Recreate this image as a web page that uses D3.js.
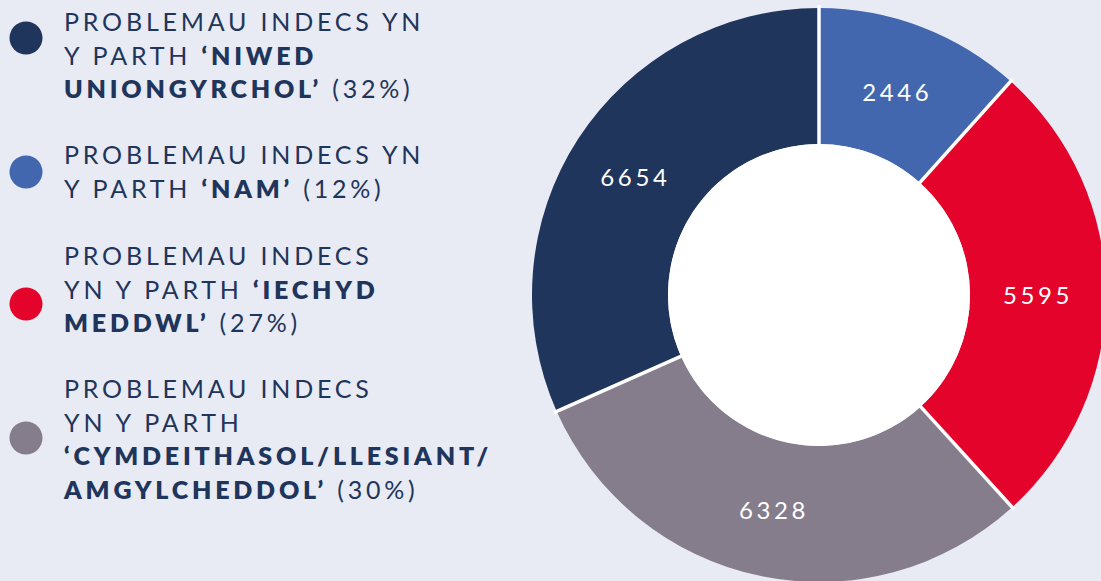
<!DOCTYPE html>
<html>
<head>
<meta charset="utf-8">
<script src="https://cdn.jsdelivr.net/npm/d3@7"></script>
<style>
  html, body { margin: 0; padding: 0; background: #e8ebf3; }
  svg text { font-family: Lato, "Noto Sans", sans-serif; }
</style>
</head>
<body>
<svg id="chart" width="1101" height="581"></svg>
<script>
'use strict';

// Domains, in legend order
var categories = ['Niwed uniongyrchol', 'Nam', 'Iechyd meddwl', 'Cymdeithasol/Llesiant/Amgylcheddol'];
var values = [6654, 2446, 5595, 6328];
var colours = ['#1f355b', '#4267ae', '#e4032b', '#857d8c'];

// Legend lines: [text, bold] segments; '%' gets filled from the values
var legendLines = [
  [[['PROBLEMAU INDECS YN', 0]], [['Y PARTH ', 0], ['‘NIWED', 1]], [['UNIONGYRCHOL’', 1], [' (%)', 0]]],
  [[['PROBLEMAU INDECS YN', 0]], [['Y PARTH ', 0], ['‘NAM’', 1], ['  (%)', 0]]],
  [[['PROBLEMAU INDECS', 0]], [['YN Y PARTH ', 0], ['‘IECHYD', 1]], [['MEDDWL’', 1], [' (%)', 0]]],
  [[['PROBLEMAU INDECS', 0]], [['YN Y PARTH', 0]], [['‘CYMDEITHASOL/LLESIANT/', 1]], [['AMGYLCHEDDOL’', 1], ['  (%)', 0]]]
];

var svg = d3.select('#chart');
var total = d3.sum(values);

// ---- donut ----
var cx = 819, cy = 295, rOuter = 287, rInner = 151;
var a0 = values[0] / total * 2 * Math.PI; // navy ends at 12 o'clock

var pie = d3.pie().sort(null).startAngle(-a0).endAngle(2 * Math.PI - a0);
var arc = d3.arc().innerRadius(rInner).outerRadius(rOuter);
var arcs = pie(values);

var g = svg.append('g').attr('transform', 'translate(' + cx + ',' + cy + ')');

g.selectAll('path.slice')
  .data(arcs).enter()
  .append('path')
  .attr('class', 'slice')
  .attr('d', arc)
  .attr('fill', function(d, i) { return colours[i]; });

g.append('circle').attr('r', rInner).attr('fill', '#ffffff');

// white separators between slices
g.selectAll('line.sep')
  .data(arcs).enter()
  .append('line')
  .attr('class', 'sep')
  .attr('x1', function(d) { return d3.pointRadial(d.startAngle, rInner - 1)[0]; })
  .attr('y1', function(d) { return d3.pointRadial(d.startAngle, rInner - 1)[1]; })
  .attr('x2', function(d) { return d3.pointRadial(d.startAngle, rOuter + 3)[0]; })
  .attr('y2', function(d) { return d3.pointRadial(d.startAngle, rOuter + 3)[1]; })
  .attr('stroke', '#ffffff')
  .attr('stroke-width', 3.5);

g.selectAll('text.val')
  .data(arcs).enter()
  .append('text')
  .attr('class', 'val')
  .attr('transform', function(d) { return 'translate(' + arc.centroid(d) + ')'; })
  .attr('text-anchor', 'middle')
  .attr('dy', '0.42em')
  .attr('fill', '#ffffff')
  .style('font-size', '24px')
  .style('letter-spacing', '3.6px')
  .text(function(d) { return d.data; });

// ---- legend ----
var groupTop = [31, 164, 265, 398];   // first baseline of each block
var dotY = [38, 172, 304, 438];
var lineH = 33.5;

var leg = svg.append('g');

legendLines.forEach(function(lines, i) {
  var pct = Math.round(values[i] / total * 100);
  leg.append('circle')
    .attr('cx', 26).attr('cy', dotY[i]).attr('r', 16.5)
    .attr('fill', colours[i]);

  lines.forEach(function(segs, j) {
    var t = leg.append('text')
      .attr('x', 64)
      .attr('y', groupTop[i] + j * lineH)
      .attr('fill', '#1f355b')
      .style('font-size', '25px')
      .style('letter-spacing', '3.8px');
    segs.forEach(function(s) {
      t.append('tspan')
        .attr('font-weight', s[1] ? 800 : 400)
        .text(s[0].replace('%', pct + '%'));
    });
  });
});
</script>
</body>
</html>
